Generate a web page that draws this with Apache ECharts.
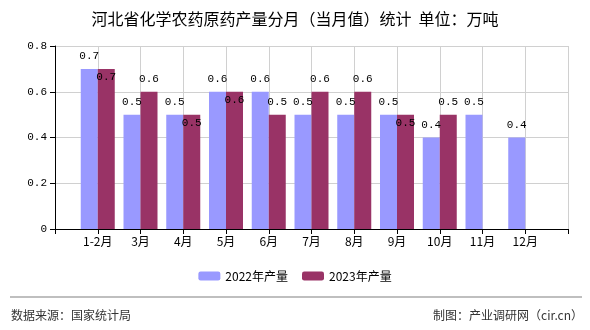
<!DOCTYPE html>
<html><head><meta charset="utf-8">
<script src="https://cdn.jsdelivr.net/npm/echarts@6/dist/echarts.min.js"></script>
<style>html,body{margin:0;padding:0;background:#fff}#c{width:590px;height:330px}</style>
</head><body><div id="c"></div>
<script>
const months = ['1-2月','3月','4月','5月','6月','7月','8月','9月','10月','11月','12月'];
const v2022 = [0.7,0.5,0.5,0.6,0.6,0.5,0.5,0.5,0.4,0.5,0.4];
const v2023 = [0.7,0.6,0.5,0.6,0.5,0.6,0.6,0.5,0.5,null,null];
const yTicks = [0,0.2,0.4,0.6,0.8];
const titleText = '河北省化学农药原药产量分月（当月值）统计  单位：万吨';
const seriesNames = ['2022年产量','2023年产量'];

const cats = [''].concat(months, ['']);
const pad = a => [null].concat(a, [null]);
const monoFont = '"Liberation Mono", "DejaVu Sans Mono", monospace';
const cjk = '"Noto Sans CJK SC", sans-serif';

const d2022 = pad(v2022);
const d2023 = pad(v2023).map((v, i) => {
  if (v == null) return null;
  const other = d2022[i];
  if (other != null && other === v) {
    return {value: v, label: {position: 'insideTop', distance: 3}};
  }
  return v;
});

const chart = echarts.init(document.getElementById('c'));
chart.setOption({
  animation: false,
  title: {text: titleText, left: 'center', top: 6,
    textStyle: {fontFamily: cjk, fontSize: 16, fontWeight: 'normal', color: '#000'}},
  legend: {bottom: 43, left: 'center', itemWidth: 22, itemHeight: 9, itemGap: 14,
    textStyle: {fontFamily: cjk, fontSize: 12, color: '#000'},
    data: seriesNames},
  grid: {left: 55, right: 22, top: 46, bottom: 101},
  xAxis: {type: 'category', data: cats, boundaryGap: false,
    axisLine: {lineStyle: {color: '#000'}},
    axisTick: {show: true, length: 5, lineStyle: {color: '#000'}},
    axisLabel: {fontFamily: cjk, fontSize: 12, color: '#000', margin: 6, interval: 0},
    splitLine: {show: true, lineStyle: {color: '#d0d0d0'}}},
  yAxis: {type: 'value', min: yTicks[0], max: yTicks[yTicks.length-1], interval: 0.2,
    axisLine: {show: true, lineStyle: {color: '#000'}},
    axisTick: {show: true, length: 5, lineStyle: {color: '#000'}},
    axisLabel: {fontFamily: monoFont, fontSize: 11, color: '#000', margin: 8},
    splitLine: {show: true, lineStyle: {color: '#d0d0d0'}}},
  series: [
    {name: seriesNames[0], type: 'bar', data: d2022, barWidth: 17, barGap: 0,
      itemStyle: {color: '#9999ff'},
      label: {show: true, position: 'top', distance: 7, fontFamily: monoFont, fontSize: 11, color: '#000'}},
    {name: seriesNames[1], type: 'bar', data: d2023, barWidth: 17, barGap: 0,
      itemStyle: {color: '#993366'},
      label: {show: true, position: 'top', distance: 7, fontFamily: monoFont, fontSize: 11, color: '#000'}}
  ],
  graphic: [
    {type: 'line', shape: {x1: 10, y1: 297, x2: 582, y2: 297}, style: {stroke: '#808080', lineWidth: 1.2}},
    {type: 'text', left: 11, top: 309, style: {text: '数据来源：国家统计局', font: '12px "Noto Sans CJK SC"', fill: '#333'}},
    {type: 'text', right: 7, top: 309, style: {text: '制图：产业调研网（cir.cn）', font: '12px "Noto Sans CJK SC"', fill: '#333'}}
  ]
});
</script></body></html>
